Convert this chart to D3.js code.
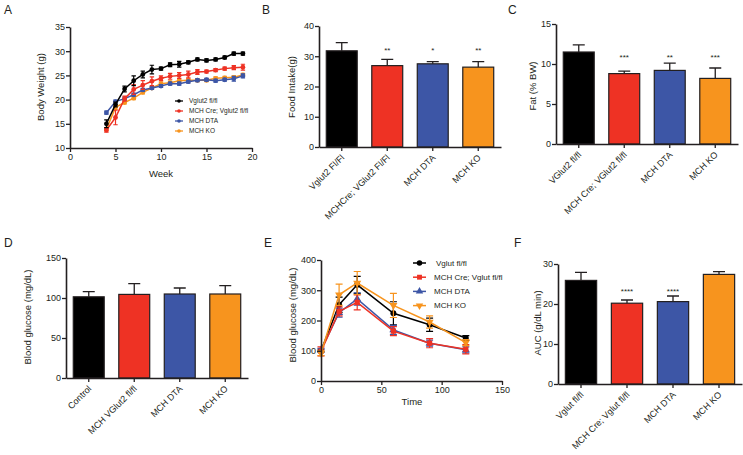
<!DOCTYPE html>
<meta charset="utf-8">
<style>
  body { margin: 0; background: #fff; }
  text { font-family: "Liberation Sans", Arial, sans-serif; fill: #231f20; }
  .tick text { font-size: 9px; }
  .axis path, .axis line { stroke: #231f20; }
  .axis path { stroke-width: 1.6px; }
  .axis line { stroke-width: 1.3px; }
  .axis-label { font-size: 9.5px; }
  .panel-label { font-size: 12px; }
  .leg { font-size: 6.5px; }
  .legE { font-size: 8px; }
  .stars { font-size: 8px; }
</style>

<script src="https://d3js.org/d3.v7.min.js"></script>

<div id="chart"></div>

<script>
  const colors = ["#000000", "#EE3224", "#3D56A6", "#F7941E"];

  // ---- A: body weight over weeks
  const weeks = [4,5,6,7,8,9,10,11,12,13,14,15,16,17,18,19];
  const bwVglut    = [15.0,19.0,22.2,23.9,25.2,26.2,26.4,27.2,27.3,27.7,28.3,28.1,28.3,28.7,29.5,29.5];
  const bwVglutErr = [0.8,0.5,0.6,1.0,0.7,0.9,0.3,0.4,0.6,0.3,0.3,0.3,0.3,0.3,0.3,0.3];
  const bwCre      = [13.7,16.3,20.2,22.1,23.0,23.8,24.4,24.8,25.0,25.2,25.7,25.8,26.1,26.4,26.6,26.7];
  const bwCreErr   = [0.4,1.5,0.5,1.0,0.9,0.9,0.5,0.6,0.6,0.7,0.5,0.3,0.3,0.3,0.4,0.6];
  const bwDta      = [17.3,19.6,20.2,21.0,22.0,22.4,22.8,23.3,23.3,23.7,24.0,24.1,23.9,24.1,24.3,24.9];
  const bwDtaErr   = [0.3,0.3,0.3,0.3,0.3,0.3,0.3,0.3,0.3,0.3,0.3,0.3,0.3,0.3,0.5,0.4];
  const bwKo       = [13.9,18.4,19.4,20.3,21.5,22.4,23.3,23.5,23.9,24.0,24.0,24.0,24.4,24.5,24.6,25.1];
  const bwKoErr    = [0.3,0.4,0.3,0.3,0.3,0.3,0.3,0.3,0.3,0.3,0.3,0.3,0.3,0.3,0.3,0.3];
  const legendA = ["Vglut2 fl/fl", "MCH Cre; Vglut2 fl/fl", "MCH DTA", "MCH KO"];

  // ---- B: food intake
  const foodLabels = ["Vglut2 Fl/Fl", "MCHCre; VGlut2 Fl/Fl", "MCH DTA", "MCH KO"];
  const foodMean = [31.8, 26.9, 27.5, 26.4];
  const foodErr  = [2.7, 2.1, 0.7, 1.8];
  const foodStars = ["", "**", "*", "**"];

  // ---- C: fat
  const fatLabels = ["VGlut2 fl/fl", "MCH Cre; VGlut2 fl/fl", "MCH DTA", "MCH KO"];
  const fatMean = [11.5, 8.8, 9.2, 8.2];
  const fatErr  = [0.9, 0.3, 0.9, 1.3];
  const fatStars = ["", "***", "**", "***"];

  // ---- D: blood glucose
  const glucLabels = ["Control", "MCH VGlut2 fl/fl", "MCH DTA", "MCH KO"];
  const glucMean = [101.5, 104.5, 105, 105];
  const glucErr  = [6.5, 13.5, 7.5, 10.5];

  // ---- E: glucose tolerance
  const times = [0, 15, 30, 60, 90, 120];
  const gttVglut    = [100, 252, 318, 224, 186, 142];
  const gttVglutErr = [5, 25, 28, 38, 22, 8];
  const gttCre      = [98, 230, 260, 165, 125, 105];
  const gttCreErr   = [15, 15, 25, 15, 15, 15];
  const gttDta      = [103, 226, 271, 169, 125, 103];
  const gttDtaErr   = [5, 15, 20, 15, 10, 10];
  const gttKo       = [92, 285, 324, 250, 195, 127];
  const gttKoErr    = [8, 35, 38, 40, 20, 10];
  const legendE = ["Vglut fl/fl", "MCH Cre; Vglut fl/fl", "MCH DTA", "MCH KO"];

  // ---- F: AUC
  const aucLabels = ["Vglut fl/fl", "MCH Cre; Vglut fl/fl", "MCH DTA", "MCH KO"];
  const aucMean = [25.9, 20.2, 20.6, 27.4];
  const aucErr  = [2.0, 0.8, 1.4, 0.7];
  const aucStars = ["", "****", "****", ""];

  const svg = d3.select("#chart").append("svg")
      .attr("width", 743).attr("height", 455);

  function panelLabel(t, x, y) {
    svg.append("text").attr("class", "panel-label").attr("x", x).attr("y", y).text(t);
  }

  function yLabel(t, x, cy) {
    svg.append("text").attr("class", "axis-label")
      .attr("transform", `translate(${x},${cy}) rotate(-90)`)
      .attr("text-anchor", "middle").text(t);
  }

  // bar chart with upward error bars
  function barPanel(o) {
    const x = d3.scaleBand().domain(o.labels).range([o.x0, o.x1])
      .paddingInner(0.32).paddingOuter(0.16);
    const y = d3.scaleLinear().domain([0, o.ymax]).range([o.yb, o.yt]);
    const g = svg.append("g");
    const rows = o.labels.map((l, i) => ({l: l, m: o.mean[i], e: o.err[i], c: colors[i], s: o.stars ? o.stars[i] : ""}));

    // error bars (behind bars)
    g.selectAll(".eb").data(rows).join("path")
      .attr("d", d => {
        const cx = x(d.l) + x.bandwidth() / 2, w = 6;
        return `M${cx},${y(d.m)}V${y(d.m + d.e)}M${cx - w},${y(d.m + d.e)}H${cx + w}`;
      })
      .attr("stroke", "#231f20").attr("stroke-width", 1.3).attr("fill", "none");

    g.selectAll(".bar").data(rows).join("rect")
      .attr("x", d => x(d.l)).attr("width", x.bandwidth())
      .attr("y", d => y(d.m)).attr("height", d => y(0) - y(d.m))
      .attr("fill", d => d.c).attr("stroke", "#231f20").attr("stroke-width", 1.2);

    g.selectAll(".st").data(rows).join("text")
      .attr("class", "stars").attr("text-anchor", "middle")
      .attr("x", d => x(d.l) + x.bandwidth() / 2).attr("y", o.starY)
      .text(d => d.s);

    g.append("g").attr("class", "axis")
      .attr("transform", `translate(${o.x0},0)`)
      .call(d3.axisLeft(y).ticks(o.nt).tickSize(4).tickSizeOuter(0).tickPadding(1));

    const xa = g.append("g").attr("class", "axis")
      .attr("transform", `translate(0,${o.yb})`)
      .call(d3.axisBottom(x).tickSize(4).tickSizeOuter(0));
    xa.selectAll(".tick text")
      .attr("text-anchor", "end")
      .attr("transform", "translate(1,9) rotate(-45)")
      .attr("dy", "0.35em").attr("y", 0).attr("x", 0);
  }

  function errPath(x, y, xs, m, e, w) {
    return xs.map((t, i) => {
      const cx = x(t);
      return `M${cx},${y(m[i] - e[i])}V${y(m[i] + e[i])}` +
             `M${cx - w},${y(m[i] - e[i])}H${cx + w}M${cx - w},${y(m[i] + e[i])}H${cx + w}`;
    }).join("");
  }

  // ---------- Panel A
  (function () {
    const x = d3.scaleLinear().domain([0, 20]).range([70, 252]);
    const y = d3.scaleLinear().domain([10, 35]).range([148, 27]);
    const series = [[bwVglut, bwVglutErr], [bwCre, bwCreErr], [bwDta, bwDtaErr], [bwKo, bwKoErr]];
    const g = svg.append("g");
    const line = d3.line().x((d, i) => x(weeks[i])).y(d => y(d));
    // draw back to front: KO, DTA, Cre, Vglut
    [3, 2, 1, 0].forEach(k => {
      const [m, e] = series[k];
      g.append("path").attr("d", errPath(x, y, weeks, m, e, 2.2))
        .attr("stroke", colors[k]).attr("stroke-width", 1.2).attr("fill", "none");
      g.append("path").datum(m).attr("d", line)
        .attr("stroke", colors[k]).attr("stroke-width", 1.5).attr("fill", "none");
      g.selectAll(null).data(m).join("circle")
        .attr("cx", (d, i) => x(weeks[i])).attr("cy", d => y(d)).attr("r", 2.4)
        .attr("fill", colors[k]);
    });
    g.append("g").attr("class", "axis").attr("transform", "translate(70,0)")
      .call(d3.axisLeft(y).tickValues([10, 15, 20, 25, 30, 35]).tickSize(4).tickSizeOuter(0).tickPadding(1));
    g.append("g").attr("class", "axis").attr("transform", "translate(0,148)")
      .call(d3.axisBottom(x).tickValues([0, 5, 10, 15, 20]).tickSize(4).tickSizeOuter(0).tickPadding(2));
    svg.append("text").attr("class", "axis-label").attr("x", 161).attr("y", 177)
      .attr("text-anchor", "middle").text("Week");
    yLabel("Body Weight (g)", 44, 87);

    const lg = g.append("g");
    legendA.forEach((t, i) => {
      const ly = 101 + i * 10;
      lg.append("line").attr("x1", 175).attr("x2", 183).attr("y1", ly).attr("y2", ly)
        .attr("stroke", colors[i]).attr("stroke-width", 1.3);
      lg.append("circle").attr("cx", 179).attr("cy", ly).attr("r", 1.8).attr("fill", colors[i]);
      lg.append("text").attr("class", "leg").attr("x", 189).attr("y", ly).attr("dy", "0.35em").text(t);
    });
    panelLabel("A", 4, 14);
  })();

  // ---------- Panel B
  barPanel({labels: foodLabels, mean: foodMean, err: foodErr, stars: foodStars,
            x0: 319, x1: 501, yb: 147, yt: 26, ymax: 40, nt: 4, starY: 53});
  yLabel("Food Intake(g)", 295, 87);
  panelLabel("B", 262, 14);

  // ---------- Panel C
  barPanel({labels: fatLabels, mean: fatMean, err: fatErr, stars: fatStars,
            x0: 556, x1: 738, yb: 144, yt: 24, ymax: 15, nt: 3, starY: 60});
  yLabel("Fat (% BW)", 536, 86);
  panelLabel("C", 508, 14);

  // ---------- Panel D
  barPanel({labels: glucLabels, mean: glucMean, err: glucErr,
            x0: 66, x1: 248, yb: 378, yt: 258, ymax: 150, nt: 3, starY: 0});
  yLabel("Blood glucose (mg/dL)", 31, 317);
  panelLabel("D", 4, 247);

  // ---------- Panel E
  (function () {
    const x = d3.scaleLinear().domain([0, 150]).range([321, 502]);
    const y = d3.scaleLinear().domain([0, 400]).range([381, 260]);
    const series = [[gttVglut, gttVglutErr], [gttCre, gttCreErr], [gttDta, gttDtaErr], [gttKo, gttKoErr]];
    const shapes = [d3.symbolCircle, d3.symbolSquare, d3.symbolTriangle, d3.symbolTriangle];
    const rot = [0, 0, 0, 180];
    const g = svg.append("g");
    const line = d3.line().x((d, i) => x(times[i])).y(d => y(d));
    [0, 2, 1, 3].forEach(k => {
      const [m, e] = series[k];
      g.append("path").attr("d", errPath(x, y, times, m, e, 3.5))
        .attr("stroke", colors[k]).attr("stroke-width", 1.2).attr("fill", "none");
      g.append("path").datum(m).attr("d", line)
        .attr("stroke", colors[k]).attr("stroke-width", 1.5).attr("fill", "none");
      g.selectAll(null).data(m).join("path")
        .attr("d", d3.symbol(shapes[k], 28))
        .attr("transform", (d, i) => `translate(${x(times[i])},${y(d)}) rotate(${rot[k]})`)
        .attr("fill", colors[k]);
    });
    g.append("g").attr("class", "axis").attr("transform", "translate(321,0)")
      .call(d3.axisLeft(y).tickValues([0, 100, 200, 300, 400]).tickSize(4).tickSizeOuter(0).tickPadding(1));
    g.append("g").attr("class", "axis").attr("transform", "translate(0,381)")
      .call(d3.axisBottom(x).tickValues([0, 50, 100, 150]).tickSize(4).tickSizeOuter(0).tickPadding(2));
    svg.append("text").attr("class", "axis-label").attr("x", 412).attr("y", 405)
      .attr("text-anchor", "middle").text("Time");
    yLabel("Blood glucose (mg/dL)", 296, 315);

    legendE.forEach((t, i) => {
      const ly = 263 + i * 14.2;
      g.append("line").attr("x1", 413).attr("x2", 426).attr("y1", ly).attr("y2", ly)
        .attr("stroke", colors[i]).attr("stroke-width", 1.5);
      g.append("path").attr("d", d3.symbol(shapes[i], 24))
        .attr("transform", `translate(419.5,${ly}) rotate(${rot[i]})`).attr("fill", colors[i]);
      g.append("text").attr("class", "legE").attr("x", i === 0 ? 436 : 434).attr("y", ly)
        .attr("dy", "0.35em").text(t);
    });
    panelLabel("E", 264, 247);
  })();

  // ---------- Panel F
  barPanel({labels: aucLabels, mean: aucMean, err: aucErr, stars: aucStars,
            x0: 558, x1: 742, yb: 384, yt: 264, ymax: 30, nt: 3, starY: 294});
  yLabel("AUC (g/dL min)", 541, 323);
  panelLabel("F", 514, 247);
</script>
